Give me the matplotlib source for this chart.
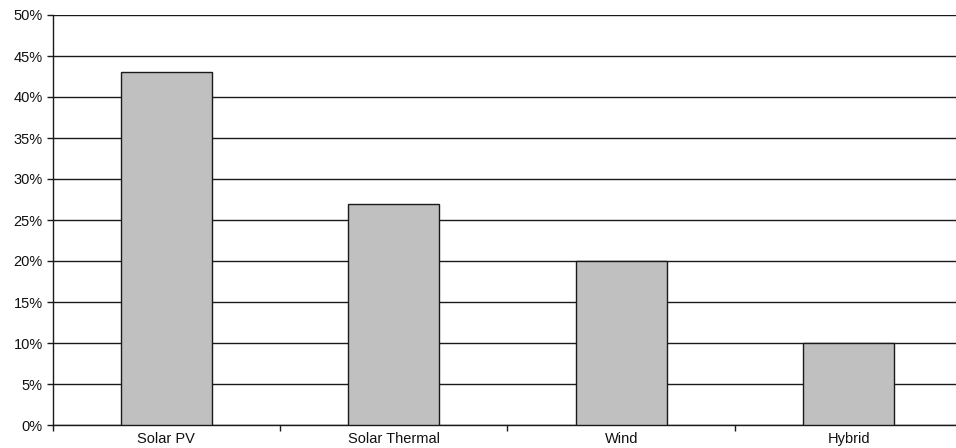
import matplotlib.pyplot as plt
from matplotlib.ticker import MultipleLocator, FuncFormatter, FixedLocator
import numpy as np

plt.rcParams['font.family'] = ['Liberation Sans', 'DejaVu Sans']

categories = ['Solar PV', 'Solar Thermal', 'Wind', 'Hybrid']
shares = [43, 27, 20, 10]

fig = plt.figure(figsize=(9.56, 4.48), dpi=100)
# plot area runs a little past the right edge of the image
ax = fig.add_axes([52.5 / 956, 23 / 448, 910 / 956, 410 / 448])

x = np.arange(len(categories))
ax.bar(x, shares, width=0.4, color='#c0c0c0', edgecolor='#1a1a1a',
       linewidth=1.0, zorder=3)

ax.set_xlim(-0.5, len(categories) - 0.5)
ax.set_ylim(0, 50)
ax.yaxis.set_major_locator(MultipleLocator(5))
ax.yaxis.set_major_formatter(FuncFormatter(lambda v, p: f'{v:.0f}%'))
ax.grid(True, axis='y', color='#1a1a1a', linewidth=1.0, zorder=0)

ax.set_xticks(x)
ax.set_xticklabels(categories)
ax.xaxis.set_minor_locator(FixedLocator(np.arange(-0.5, len(categories), 1.0)))
ax.tick_params(axis='x', which='major', length=0, pad=5, labelsize=10.5,
               labelcolor='#111111')
ax.tick_params(axis='x', which='minor', length=4, width=1.0, color='#1a1a1a')
ax.tick_params(axis='y', length=4, width=1.0, color='#1a1a1a', pad=3,
               labelsize=10.5, labelcolor='#111111')

for side in ('top', 'right'):
    ax.spines[side].set_visible(False)
for side in ('left', 'bottom'):
    ax.spines[side].set_color('#1a1a1a')
    ax.spines[side].set_linewidth(1.0)

fig.savefig('out.png', dpi=100)
